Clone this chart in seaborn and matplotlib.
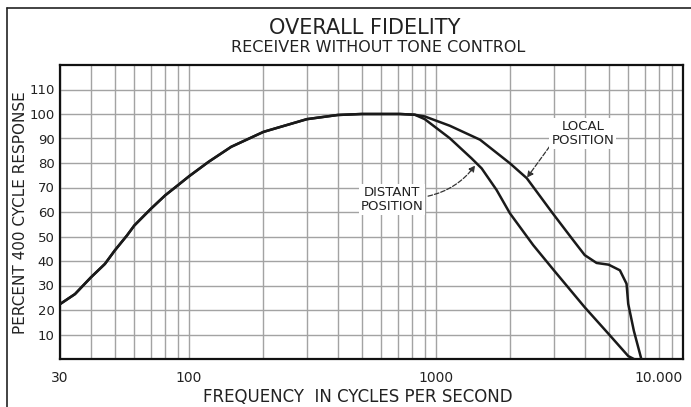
import numpy as np
import matplotlib
matplotlib.use("Agg")
import matplotlib.pyplot as plt
import seaborn as sns
import pandas as pd
from matplotlib.lines import Line2D
from matplotlib.ticker import FixedLocator, NullFormatter

# Curve: shared part up to the split near 800 c/s
freq_common = [30, 34.5, 40, 45.6, 50, 56, 60, 70, 80, 90, 100, 120, 148, 200, 223,
               300, 400, 500, 600, 714, 820]
resp_common = [22.4, 26.5, 33.3, 38.8, 44.3, 50.4, 54.5, 61.3, 66.8, 70.9, 74.6, 80.5, 86.6,
               92.7, 94.1, 97.9, 99.6, 100, 100, 100, 99.7]

# Local position branch
freq_local = [900, 1137, 1507, 1990, 2330, 2950, 3591, 4000, 4467, 5000, 5553, 5907, 6000,
              6324, 6780]
resp_local = [99, 95.2, 89.5, 79.9, 73.8, 59.8, 48.5, 42.4, 39.2, 38.5, 36.2, 30.7, 22.5,
              11.5, 0]

# Distant position branch
freq_distant = [900, 1137, 1392, 1530, 1758, 1990, 2473, 3000, 4000, 5000, 6000, 6324]
resp_distant = [97.9, 90.1, 81.9, 77.8, 69, 59.5, 46.5, 36.2, 21.1, 10.2, 1.2, 0]

x_ticks = [30, 100, 1000, 10000]
x_tick_labels = ["30", "100", "1000", "10.000"]
y_ticks = [10, 20, 30, 40, 50, 60, 70, 80, 90, 100, 110]

df = pd.concat([
    pd.DataFrame({"freq": freq_common + freq_local,
                  "resp": resp_common + resp_local,
                  "curve": "Local"}),
    pd.DataFrame({"freq": freq_common + freq_distant,
                  "resp": resp_common + resp_distant,
                  "curve": "Distant"}),
])

sns.set_style("white")
plt.rcParams["font.family"] = ["DejaVu Sans"]
ink = "#222222"

fig = plt.figure(figsize=(6.91, 4.07), dpi=100)
ax = fig.add_axes([60 / 691, 1 - 359 / 407, 623 / 691, 294 / 407])

ax.set_xscale("log")
ax.set_xlim(30, 10000)
ax.set_ylim(0, 120)

# grid: every 10/100/1000 step
minor = [m * d for d in (10, 100, 1000) for m in range(1, 10) if 30 <= m * d <= 10000]
for f in minor:
    ax.axvline(f, color="#a3a3a3", lw=1.0, zorder=0)
for v in y_ticks:
    ax.axhline(v, color="#a3a3a3", lw=1.0, zorder=0)

sns.lineplot(data=df, x="freq", y="resp", units="curve", estimator=None,
             color="#1a1a1a", lw=1.8, sort=False, legend=False, ax=ax, zorder=3)

ax.xaxis.set_major_locator(FixedLocator(x_ticks))
ax.xaxis.set_minor_formatter(NullFormatter())
ax.set_xticks(x_ticks)
ax.set_xticklabels(x_tick_labels)
ax.get_xticklabels()[-1].set_ha("right")
ax.set_yticks(y_ticks)
ax.set_yticklabels([str(v) for v in y_ticks])
ax.tick_params(axis="x", which="both", length=0, labelsize=10, colors=ink, pad=9)
ax.tick_params(axis="y", which="both", length=0, labelsize=9.5, colors=ink, pad=4)

for s in ax.spines.values():
    s.set_color("#111111")
    s.set_linewidth(1.6)

ax.set_xlabel("FREQUENCY  IN CYCLES PER SECOND", fontsize=12, color=ink)
ax.xaxis.set_label_coords((358 - 60) / 623, -0.097)
ax.set_ylabel("PERCENT 400 CYCLE RESPONSE", fontsize=11, color=ink)
ax.yaxis.set_label_coords(-0.051, 0.497)

fig.text(365 / 691, 1 - 28 / 407, "OVERALL FIDELITY", ha="center", va="center",
         fontsize=15, color=ink)
fig.text(378 / 691, 1 - 47 / 407, "RECEIVER WITHOUT TONE CONTROL", ha="center", va="center",
         fontsize=11.5, color=ink)

# callouts
ax.annotate("LOCAL\nPOSITION", xy=(2334, 74), xytext=(3930, 92.2),
            ha="center", va="center", fontsize=9.5, color=ink, linespacing=1.1,
            bbox=dict(boxstyle="square,pad=0.15", fc="white", ec="none"),
            arrowprops=dict(arrowstyle="-|>", ls="--", color="#333333", lw=0.9,
                            relpos=(0.0, 0.1), shrinkA=0, shrinkB=0, mutation_scale=9),
            zorder=4)
ax.annotate("DISTANT\nPOSITION", xy=(1440, 79), xytext=(663, 65),
            ha="center", va="center", fontsize=9.5, color=ink, linespacing=1.1,
            bbox=dict(boxstyle="square,pad=0.15", fc="white", ec="none"),
            arrowprops=dict(arrowstyle="-|>", ls="--", color="#333333", lw=0.9,
                            relpos=(1.0, 0.6), shrinkA=2, shrinkB=0, mutation_scale=9,
                            connectionstyle="arc3,rad=0.2"),
            zorder=4)

# page border from the scan
fig.add_artist(Line2D([7 / 691, 7 / 691], [0, 1 - 8 / 407], color=ink, lw=1.2))
fig.add_artist(Line2D([7 / 691, 1], [1 - 8 / 407, 1 - 8 / 407], color=ink, lw=1.2))

fig.savefig("out.png", dpi=100)
